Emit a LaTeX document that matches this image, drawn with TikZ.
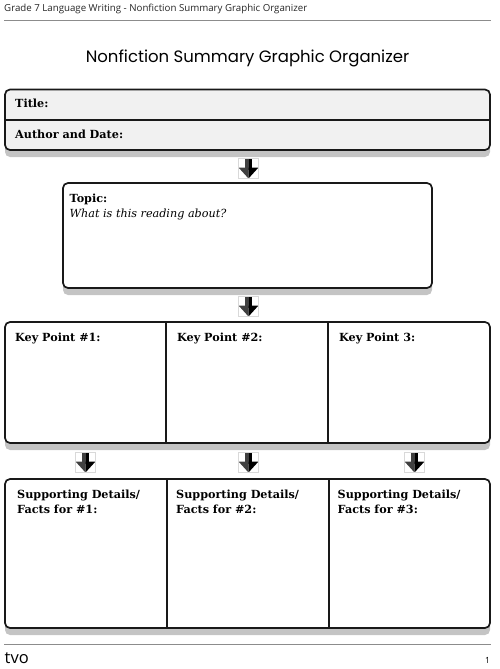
\documentclass[tikz,border=0pt]{standalone}
\usepackage{fontspec}
\setmainfont{DejaVu Serif}
\newfontfamily\headfont{Open Sans}
\newfontfamily\titlefont{Poppins}
\usepackage{xcolor}
\usetikzlibrary{positioning,shadows,calc}

\definecolor{shadowgray}{HTML}{C4C4C4}
\definecolor{rulegray}{HTML}{8C8C8C}
\definecolor{bandgray}{HTML}{F1F1F1}

\tikzset{
  panel/.style={draw=black!90, line width=1.7pt, rounded corners=5pt, fill=white, inner sep=0pt,
    drop shadow={shadow xshift=0pt, shadow yshift=-7pt, fill=shadowgray, opacity=1}},
  divider/.style={draw=black!90, line width=1.7pt},
  pagerule/.style={draw=rulegray, line width=1pt},
  boxlabel/.style={anchor=north west, inner sep=0pt, font=\fontsize{11.2}{15}\selectfont\bfseries, align=left},
  arrowicon/.style={draw=black!15, line width=.5pt, minimum size=20pt, inner sep=0pt,
    path picture={
      \fill[black!75] ($(path picture bounding box.center)+(-3.5pt,9.5pt)$) rectangle ($(path picture bounding box.center)+(0pt,-1pt)$);
      \fill[black] ($(path picture bounding box.center)+(0pt,9.5pt)$) rectangle ($(path picture bounding box.center)+(3.5pt,-1pt)$);
      \fill[black!75] ($(path picture bounding box.center)+(-10pt,1pt)$) -- ($(path picture bounding box.center)+(0pt,1pt)$) -- ($(path picture bounding box.center)+(0pt,-10pt)$) -- cycle;
      \fill[black] ($(path picture bounding box.center)+(10pt,1pt)$) -- ($(path picture bounding box.center)+(0pt,1pt)$) -- ($(path picture bounding box.center)+(0pt,-10pt)$) -- cycle;
    }}
}

\begin{document}
\begin{tikzpicture}[x=1pt, y=-1pt, on grid]
  \useasboundingbox (0,0) rectangle (500,669);

  % page head
  \node[anchor=west, inner sep=0pt, font=\headfont\fontsize{9.7}{11}\selectfont, text=black!85] (head) at (4,8.5) {Grade 7 Language Writing - Nonfiction Summary Graphic Organizer};
  \coordinate (headl) at (4,20.5);
  \coordinate (headr) at (491,20.5);
  \draw[pagerule] (headl) -- (headr);
  \node[inner sep=0pt, font=\titlefont\fontsize{16.5}{18}\selectfont] (heading) at (247.5,58) {Nonfiction Summary Graphic Organizer};

  % panels
  \node[panel, fill=bandgray, minimum width=485pt, minimum height=60.5pt] (titles) at (247.5,119.75) {};
  \node[panel, minimum width=369pt, minimum height=105pt, below=115.75pt of titles] (topic) {};
  \node[panel, minimum width=485pt, minimum height=121pt, below=147pt of topic] (keys) {};
  \node[panel, minimum width=485pt, minimum height=149pt, below=171pt of keys] (details) {};

  % dividers
  \coordinate (titlediv) at (5,120);
  \draw[divider] (titlediv) -- (titlediv -| titles.east);
  \coordinate (keydiva) at (166,322);
  \coordinate (keydivb) at (328,322);
  \draw[divider] (keydiva) -- (keydiva |- keys.south);
  \draw[divider] (keydivb) -- (keydivb |- keys.south);
  \coordinate (detaildiva) at (167,479);
  \coordinate (detaildivb) at (329,479);
  \draw[divider] (detaildiva) -- (detaildiva |- details.south);
  \draw[divider] (detaildivb) -- (detaildivb |- details.south);

  % labels
  \node[boxlabel] (titlelabel) at (15,99) {Title:};
  \node[boxlabel] (authorlabel) at (15,130) {Author and Date:};
  \node[boxlabel] (topiclabel) at (69.5,194) {Topic:\\\mdseries\itshape What is this reading about?};
  \node[boxlabel] (keya) at (15,333) {Key Point \#1:};
  \node[boxlabel] (keyb) at (177,333) {Key Point \#2:};
  \node[boxlabel] (keyc) at (339,333) {Key Point 3:};
  \node[boxlabel] (detaila) at (17,490) {Supporting Details/\\Facts for \#1:};
  \node[boxlabel] (detailb) at (176,490) {Supporting Details/\\Facts for \#2:};
  \node[boxlabel] (detailc) at (337.5,490) {Supporting Details/\\Facts for \#3:};

  % arrows
  \node[arrowicon] (arrowtopic) at (248.5,168.5) {};
  \node[arrowicon] (arrowkeys) at (248.5,306.5) {};
  \node[arrowicon] (arrowa) at (85.5,462.5) {};
  \node[arrowicon] (arrowb) at (248.5,462.5) {};
  \node[arrowicon] (arrowc) at (414.5,462.5) {};

  % page foot
  \coordinate (footl) at (4,644);
  \coordinate (footr) at (491,644);
  \draw[pagerule] (footl) -- (footr);
  \node[anchor=west, inner sep=0pt, font=\headfont\fontsize{16.5}{18}\selectfont] (brand) at (4.5,658) {tvo};
  \node[inner sep=0pt, font=\headfont\fontsize{8.5}{10}\selectfont] (pagenum) at (487.5,660) {1};
\end{tikzpicture}
\end{document}
